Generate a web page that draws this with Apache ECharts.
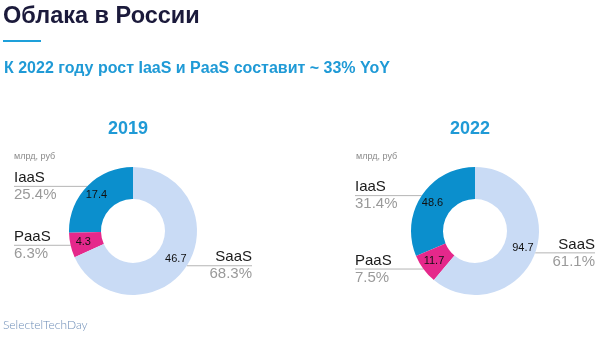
<!DOCTYPE html>
<html><head><meta charset="utf-8">
<script src="https://cdn.jsdelivr.net/npm/echarts@6/dist/echarts.min.js"></script>
<style>html,body{margin:0;padding:0;background:#fff}#c{width:600px;height:350px}</style>
</head><body><div id="c"></div>
<script>
const categories = ['IaaS', 'PaaS', 'SaaS'];
const years = ['2019', '2022'];
const values2019 = [17.4, 4.3, 46.7];
const values2022 = [48.6, 11.7, 94.7];
const titleText = 'Облака в России';
const subtitleText = 'К 2022 году рост IaaS и PaaS составит ~ 33% YoY';
const unitText = 'млрд, руб';
const logoText = 'SelectelTechDay';

const colors = ['#0b8fcd', '#e5288b', '#c9dbf5'];
const FONT = '"Liberation Sans", Arial, sans-serif';

function toData(vals) {
  return categories.map((c, i) => ({ name: c, value: vals[i], itemStyle: { color: colors[i] } }));
}

function edgeLine(params) {
  const pts = params.labelLinePoints;
  if (!pts || pts.length < 2) return {};
  const r = params.labelRect;
  const start = pts[0];
  const last = pts[pts.length - 1];
  const isLeft = last[0] < start[0];
  const endX = isLeft ? r.x : r.x + r.width;
  return { labelLinePoints: [start, [start[0], last[1]], [endX, last[1]]] };
}

function ringSeries(vals, box) {
  return {
    type: 'pie',
    left: box.left, top: box.top, width: box.width, height: box.height,
    center: ['50%', '50%'],
    radius: [32, 64],
    startAngle: 90,
    clockwise: false,
    silent: true,
    label: {
      show: true, position: 'inside', formatter: '{c}',
      color: '#111', fontSize: 11, fontFamily: FONT
    },
    labelLine: { show: false },
    emphasis: { disabled: true },
    data: toData(vals)
  };
}

function labelSeries(vals, box) {
  return {
    type: 'pie',
    left: box.left, top: box.top, width: box.width, height: box.height,
    center: ['50%', '50%'],
    radius: [32, 64],
    startAngle: 90,
    clockwise: false,
    silent: true,
    percentPrecision: 1,
    itemStyle: { color: 'rgba(0,0,0,0)' },
    label: {
      show: true, position: 'outside', alignTo: 'edge', edgeDistance: 0,
      formatter: '{n|{b}}\n{p|{d}%}',
      rich: {
        n: { fontSize: 15, color: '#1a1a1a', lineHeight: 17, fontFamily: FONT },
        p: { fontSize: 15, color: '#9a9a9a', lineHeight: 17, fontFamily: FONT }
      }
    },
    labelLine: { show: true, length: 0, length2: 6, lineStyle: { color: '#b5b5b5', width: 1 } },
    labelLayout: edgeLine,
    emphasis: { disabled: true },
    data: categories.map((c, i) => ({ name: c, value: vals[i], itemStyle: { color: 'rgba(0,0,0,0)' } }))
  };
}

const box1 = { left: 14, top: 167, width: 238, height: 128 };
const box2 = { left: 355, top: 167, width: 240, height: 128 };

const chart = echarts.init(document.getElementById('c'), null, { renderer: 'canvas' });
chart.setOption({
  backgroundColor: '#ffffff',
  animation: false,
  graphic: [
    { type: 'text', left: 3, top: 5, style: { text: titleText, fill: '#1b1a3b', font: 'bold 23.5px ' + FONT } },
    { type: 'rect', shape: { x: 3, y: 40, width: 38, height: 2 }, style: { fill: '#1ea0da' } },
    { type: 'text', left: 4, top: 61, style: { text: subtitleText, fill: '#1f9ad6', font: 'bold 16px ' + FONT } },
    { type: 'text', x: 128, y: 129, style: { text: years[0], fill: '#1f9ad6', font: 'bold 18px ' + FONT, align: 'center', verticalAlign: 'middle' } },
    { type: 'text', x: 470, y: 129, style: { text: years[1], fill: '#1f9ad6', font: 'bold 18px ' + FONT, align: 'center', verticalAlign: 'middle' } },
    { type: 'text', x: 14, y: 157, style: { text: unitText, fill: '#8a8a8a', font: '9px ' + FONT, verticalAlign: 'middle' } },
    { type: 'text', x: 356, y: 157, style: { text: unitText, fill: '#8a8a8a', font: '9px ' + FONT, verticalAlign: 'middle' } },
    { type: 'text', x: 3, y: 325, style: { text: logoText, fill: '#6d8db7', font: '300 12px Lato, ' + FONT, verticalAlign: 'middle' } }
  ],
  series: [
    ringSeries(values2019, box1),
    labelSeries(values2019, box1),
    ringSeries(values2022, box2),
    labelSeries(values2022, box2)
  ]
});
</script>
</body></html>
